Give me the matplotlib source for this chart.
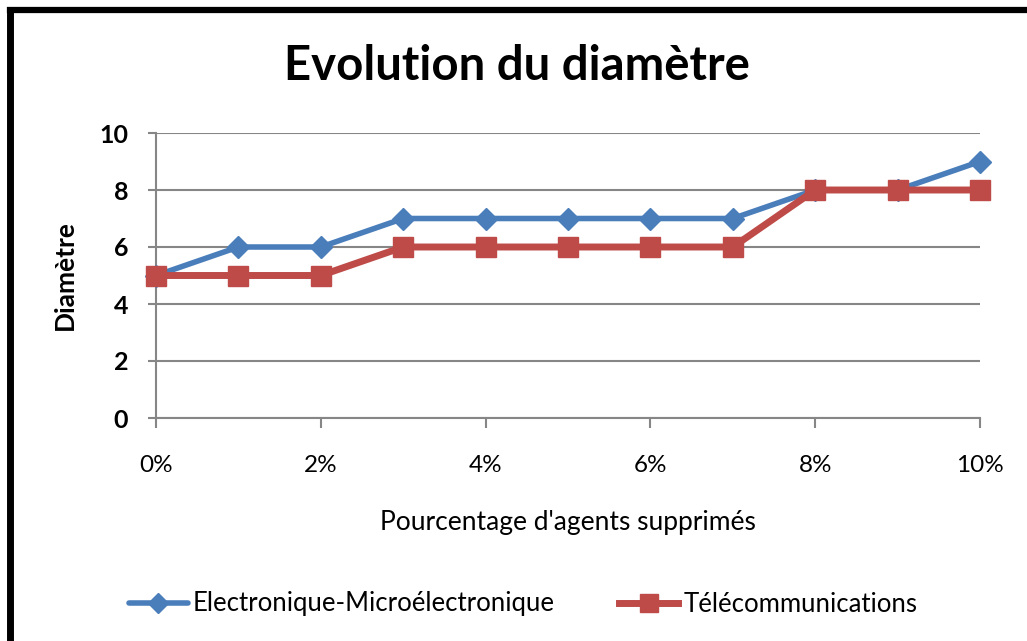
import matplotlib
matplotlib.use("Agg")
import matplotlib.pyplot as plt
from matplotlib.lines import Line2D

categories = ["0%", "1%", "2%", "3%", "4%", "5%", "6%", "7%", "8%", "9%", "10%"]
electro = [5, 6, 6, 7, 7, 7, 7, 7, 8, 8, 9]
telecom = [5, 5, 5, 6, 6, 6, 6, 6, 8, 8, 8]
yticks = [0, 2, 4, 6, 8, 10]

plt.rcParams['font.family'] = ['Lato', 'DejaVu Sans']

W, H = 1027, 641
fig = plt.figure(figsize=(W / 100, H / 100), dpi=100)
fig.patch.set_facecolor('white')

def fx(px):
    return px / W

def fy(py):
    return 1 - py / H

ax = fig.add_axes([fx(156), fy(418), fx(980) - fx(156), fy(133) - fy(418)])

x = list(range(len(categories)))
blue = '#4A7EBB'
red = '#BE4B48'
grid_c = '#868686'

ax.plot(x, electro, color=blue, lw=4, marker='D', ms=11, clip_on=False, zorder=3,
        label='Electronique-Microélectronique', solid_capstyle='round')
ax.plot(x, telecom, color=red, lw=5, marker='s', ms=14, clip_on=False, zorder=4,
        label='Télécommunications')

ax.set_xlim(0, 10)
ax.set_ylim(0, 10)
ax.set_yticks(yticks)
ax.set_yticklabels([str(v) for v in yticks], fontweight='bold', fontsize=18)
ax.set_xticks(x[::2])
ax.set_xticklabels(categories[::2], fontsize=17.5)
ax.yaxis.grid(True, color=grid_c, lw=1.5)
ax.set_axisbelow(True)
for s in ['top', 'right']:
    ax.spines[s].set_visible(False)
for s in ['left', 'bottom']:
    ax.spines[s].set_color(grid_c)
    ax.spines[s].set_linewidth(1.5)
ax.tick_params(axis='y', length=6, width=1.5, color=grid_c, pad=14)
ax.tick_params(axis='x', length=7, width=1.5, color=grid_c, pad=20)

ax.set_xlabel("Pourcentage d'agents supprimés", fontsize=19, labelpad=24)
ax.set_ylabel("Diamètre", fontsize=19, fontweight='bold', labelpad=16)

fig.text(fx(517), fy(66), "Evolution du diamètre", fontsize=34, fontweight='bold',
         ha='center', va='center')

leg = fig.legend(loc='center', bbox_to_anchor=(fx(523), fy(604)), ncol=2,
                 frameon=False, fontsize=18.5, handlelength=2.3, handletextpad=0.2,
                 columnspacing=2.5, markerscale=0.9)

# black frame (top and left)
fig.add_artist(Line2D([fx(10), 1], [fy(10), fy(10)], color='black', lw=4.5,
                      transform=fig.transFigure))
fig.add_artist(Line2D([fx(10), fx(10)], [fy(10), 0], color='black', lw=5,
                      transform=fig.transFigure))

fig.savefig('out.png', dpi=100)
